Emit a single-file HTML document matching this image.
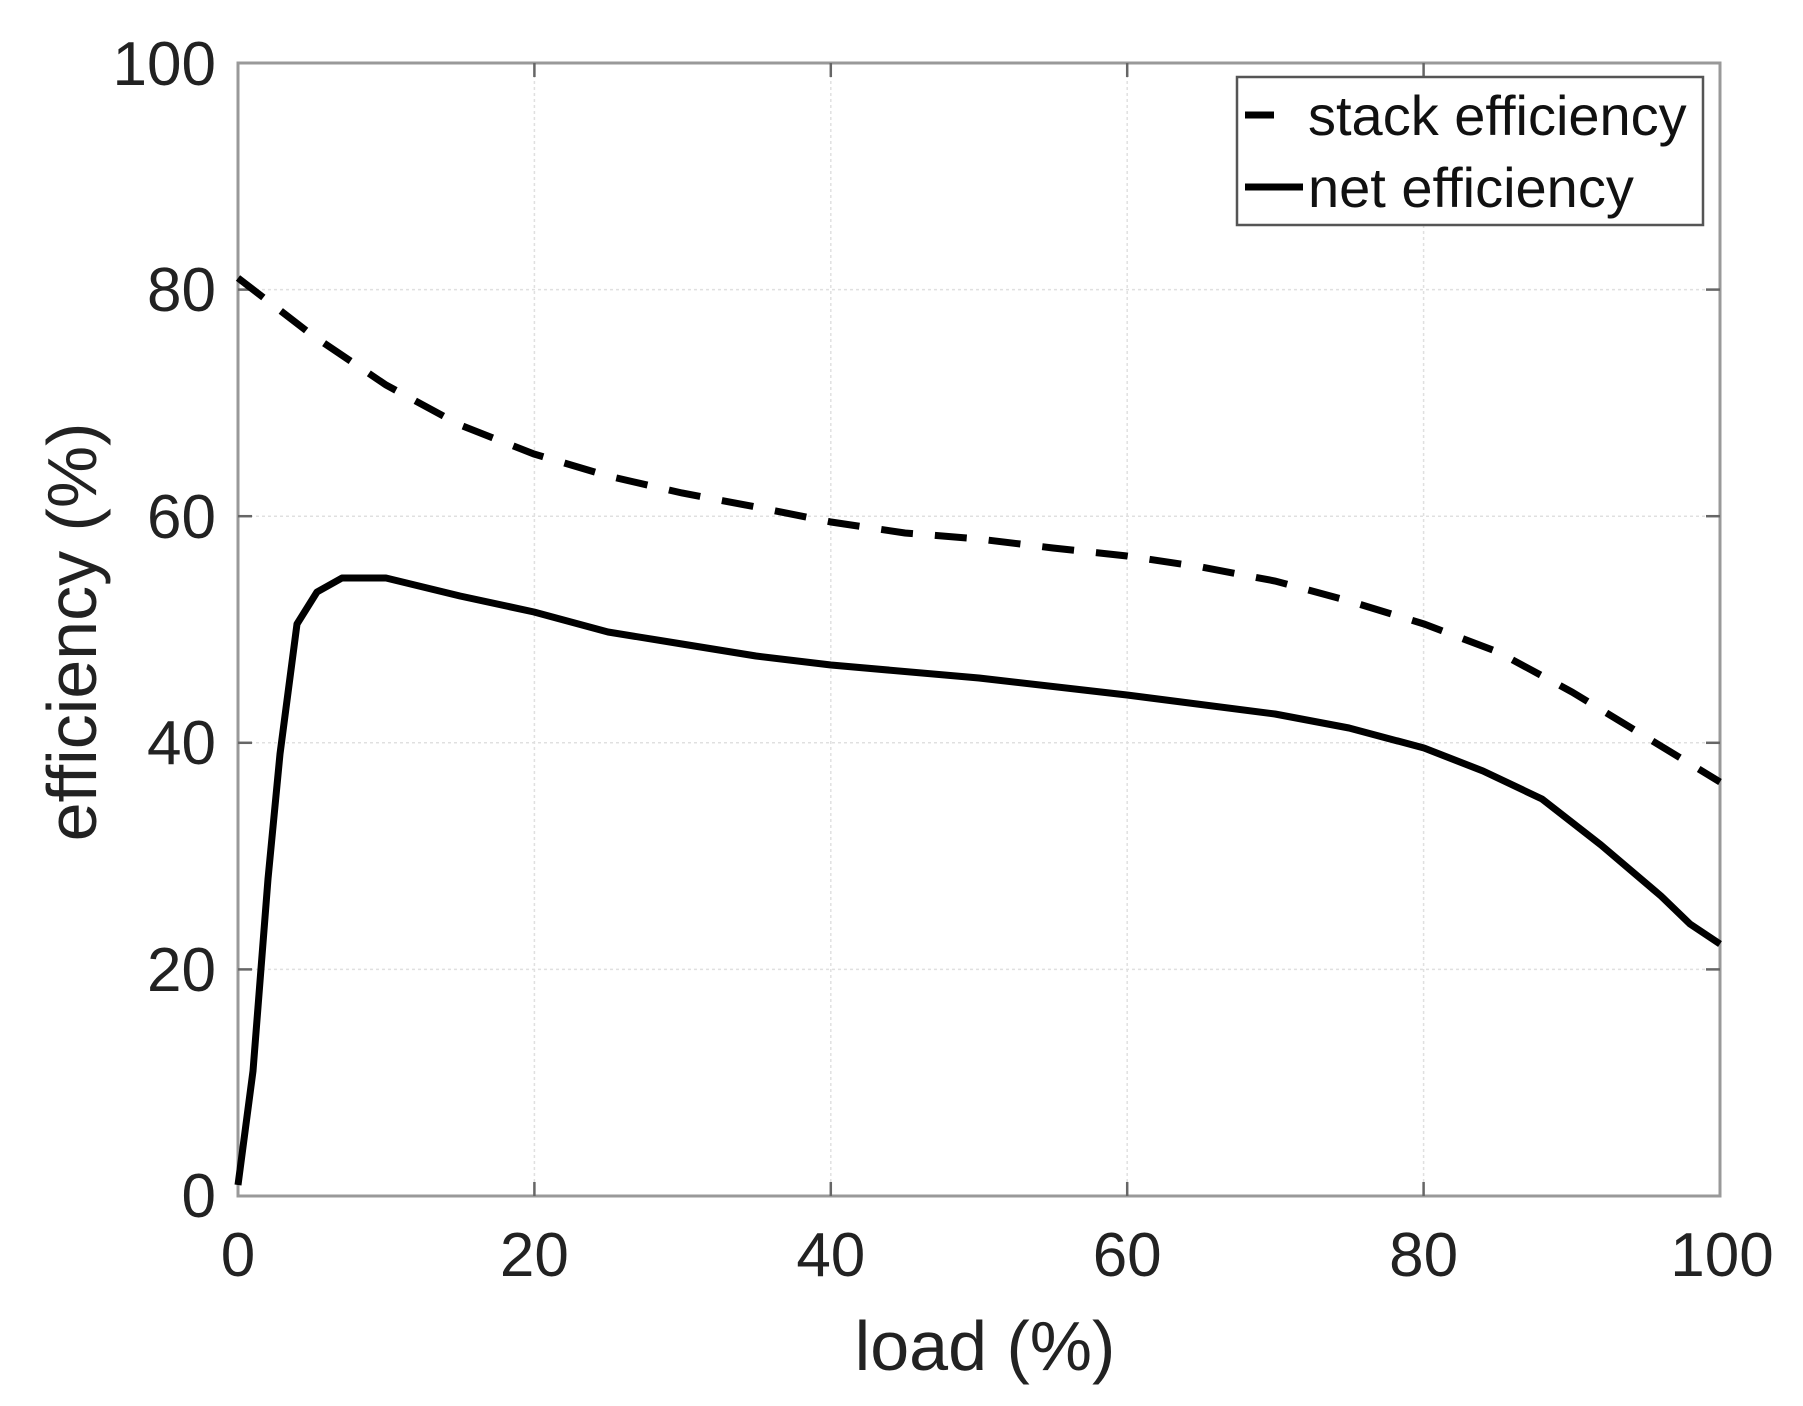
<!DOCTYPE html>
<html><head><style>body{margin:0;background:#fff}svg{display:block}</style></head>
<body>
<svg width="1803" height="1406" viewBox="0 0 1803 1406" xmlns="http://www.w3.org/2000/svg" font-family="Liberation Sans, sans-serif">
<rect width="1803" height="1406" fill="#fff"/>
<g stroke="#e0e0e0" stroke-width="1.5" stroke-dasharray="3,3">
<line x1="534.4" y1="63" x2="534.4" y2="1196"/><line x1="830.8" y1="63" x2="830.8" y2="1196"/>
<line x1="1127.2" y1="63" x2="1127.2" y2="1196"/><line x1="1423.6" y1="63" x2="1423.6" y2="1196"/>
<line x1="238" y1="289.6" x2="1720" y2="289.6"/><line x1="238" y1="516.2" x2="1720" y2="516.2"/>
<line x1="238" y1="742.8" x2="1720" y2="742.8"/><line x1="238" y1="969.4" x2="1720" y2="969.4"/>
</g>
<rect x="238" y="63" width="1482" height="1133" fill="none" stroke="#999" stroke-width="3"/>
<g stroke="#666" stroke-width="2.5">
<line x1="534.4" y1="1196" x2="534.4" y2="1182"/><line x1="830.8" y1="1196" x2="830.8" y2="1182"/><line x1="1127.2" y1="1196" x2="1127.2" y2="1182"/><line x1="1423.6" y1="1196" x2="1423.6" y2="1182"/>
<line x1="534.4" y1="63" x2="534.4" y2="77"/><line x1="830.8" y1="63" x2="830.8" y2="77"/><line x1="1127.2" y1="63" x2="1127.2" y2="77"/><line x1="1423.6" y1="63" x2="1423.6" y2="77"/>
<line x1="238" y1="289.6" x2="252" y2="289.6"/><line x1="238" y1="516.2" x2="252" y2="516.2"/><line x1="238" y1="742.8" x2="252" y2="742.8"/><line x1="238" y1="969.4" x2="252" y2="969.4"/>
<line x1="1720" y1="289.6" x2="1706" y2="289.6"/><line x1="1720" y1="516.2" x2="1706" y2="516.2"/><line x1="1720" y1="742.8" x2="1706" y2="742.8"/><line x1="1720" y1="969.4" x2="1706" y2="969.4"/>
</g>
<g font-size="62" fill="#222" text-anchor="end">
<text x="216" y="85">100</text><text x="216" y="311">80</text><text x="216" y="538">60</text><text x="216" y="764">40</text><text x="216" y="991">20</text><text x="216" y="1217">0</text>
</g>
<g font-size="62" fill="#222" text-anchor="middle">
<text x="238" y="1276">0</text><text x="534.4" y="1276">20</text><text x="830.8" y="1276">40</text><text x="1127.2" y="1276">60</text><text x="1423.6" y="1276">80</text><text x="1722" y="1276">100</text>
</g>
<text x="985" y="1370" font-size="70" fill="#222" text-anchor="middle">load (%)</text>
<text transform="translate(96,632) rotate(-90)" font-size="70" fill="#222" text-anchor="middle">efficiency (%)</text>
<polyline fill="none" stroke="#000" stroke-width="7" stroke-dasharray="32,22" points="238,278 312,335 386,385 460,425 534,454 608,476 682,493 756,507 831,522 905,533 979,539 1053,548 1127,556 1201,567 1275,581 1349,601 1424,624 1498,652 1572,692 1646,737 1720,782"/>
<polyline fill="none" stroke="#000" stroke-width="7" stroke-linejoin="round" points="238,1185 253,1071 268,879 280,754 297,624 317,592 342,578 386,578 460,596 534,612 608,632 682,644 756,656 831,665 979,678 1127,695 1275,714 1349,728 1424,748 1483,771 1542,799 1601,845 1661,896 1690,924 1720,944"/>
<rect x="1237" y="77" width="466" height="148" fill="#fff" stroke="#555" stroke-width="2.5"/>
<line x1="1245" y1="115" x2="1274" y2="115" stroke="#000" stroke-width="7"/>
<line x1="1245" y1="187" x2="1303" y2="187" stroke="#000" stroke-width="7"/>
<g font-size="56" fill="#111"><text x="1308" y="135">stack efficiency</text><text x="1308" y="207">net efficiency</text></g>
</svg>
</body></html>
